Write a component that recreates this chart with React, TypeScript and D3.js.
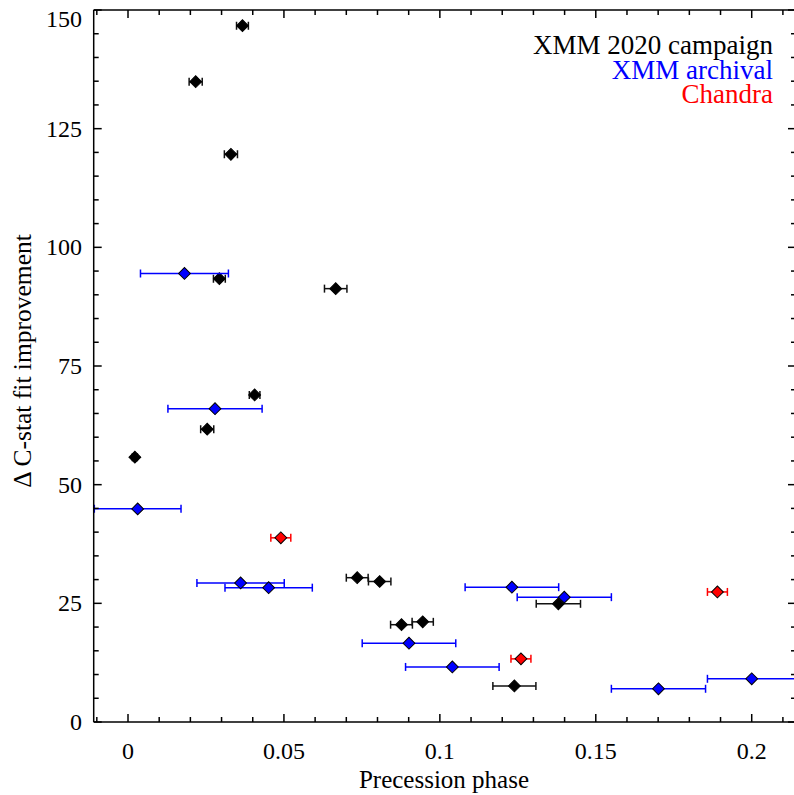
import React from "react";
import * as d3 from "d3";

// XMM 2020 campaign (black)
const campPhase = [0.0367, 0.0217, 0.0330, 0.0293, 0.0666, 0.0406, 0.0254, 0.0022, 0.0735, 0.0807, 0.0877, 0.0945, 0.1380, 0.1239];
const campErr = [0.0019, 0.0021, 0.0021, 0.0019, 0.0036, 0.0017, 0.0021, 0.0008, 0.0035, 0.0036, 0.0035, 0.0034, 0.0071, 0.0069];
const campDC = [146.7, 134.9, 119.6, 93.4, 91.3, 68.9, 61.7, 55.8, 30.4, 29.6, 20.5, 21.1, 24.9, 7.6];

// XMM archival (blue)
const archPhase = [0.0181, 0.0279, 0.0031, 0.0361, 0.0451, 0.0901, 0.1231, 0.1399, 0.1040, 0.1701, 0.2000];
const archErr = [0.0141, 0.0151, 0.0139, 0.0140, 0.0140, 0.0150, 0.0150, 0.0151, 0.0150, 0.0151, 0.0142];
const archDC = [94.5, 66.0, 44.9, 29.3, 28.3, 16.6, 28.4, 26.3, 11.6, 7.0, 9.1];

// Chandra (red)
const chanPhase = [0.0490, 0.1260, 0.1890];
const chanErr = [0.0032, 0.0032, 0.0032];
const chanDC = [38.8, 13.3, 27.4];

const xMajor = [0, 0.05, 0.1, 0.15, 0.2];
const xMajorLabels = ["0", "0.05", "0.1", "0.15", "0.2"];
const yMajor = [0, 25, 50, 75, 100, 125, 150];
const yMajorLabels = ["0", "25", "50", "75", "100", "125", "150"];

const legendLabels = ["XMM 2020 campaign", "XMM archival", "Chandra"];
const legendColors = ["#000000", "#0000ff", "#ff0000"];

const W = 794;
const H = 795;
const L = 93.7, R = 796, T = 10, B = 722;
const FONT = "'Liberation Serif', 'DejaVu Serif', serif";

export default function App() {
  const x = d3.scaleLinear().domain([-0.011, 0.2142]).range([L, R]);
  const y = d3.scaleLinear().domain([0, 150]).range([B, T]);

  const xMinor = d3.range(-0.01, 0.2141, 0.01).filter((v) => !xMajor.some((m) => Math.abs(m - v) < 1e-9));
  const yMinor = d3.range(0, 150.01, 5).filter((v) => v % 25 !== 0);

  const diamond = d3.symbol().type(d3.symbolSquare).size(70)();

  const series = [
    { p: campPhase, e: campErr, v: campDC, fill: "#000000", bar: "#111111" },
    { p: archPhase, e: archErr, v: archDC, fill: "#0000ff", bar: "#0000ff" },
    { p: chanPhase, e: chanErr, v: chanDC, fill: "#ff0000", bar: "#ff0000" },
  ];

  const capH = 4;

  return (
    <svg
      width={W}
      height={H}
      style={{ position: "absolute", left: 0, top: 0, background: "#fff" }}
      fontFamily={FONT}
    >
      <defs>
        <clipPath id="plotclip">
          <rect x={L} y={T} width={R - L} height={B - T} />
        </clipPath>
      </defs>
      <rect x={0} y={0} width={W} height={H} fill="#fff" />

      {/* data */}
      <g clipPath="url(#plotclip)">
        {series.map((s, si) => (
          <g key={si}>
            {s.p.map((p, i) => {
              const x0 = x(p - s.e[i]);
              const x1 = x(p + s.e[i]);
              const yy = y(s.v[i]);
              return (
                <g key={i} stroke={s.bar} strokeWidth={1.5}>
                  <line x1={x0} x2={x1} y1={yy} y2={yy} />
                  <line x1={x0} x2={x0} y1={yy - capH} y2={yy + capH} />
                  <line x1={x1} x2={x1} y1={yy - capH} y2={yy + capH} />
                </g>
              );
            })}
            {s.p.map((p, i) => (
              <path
                key={"m" + i}
                d={diamond as string}
                transform={`translate(${x(p)},${y(s.v[i])}) rotate(45)`}
                fill={s.fill}
                stroke="#000"
                strokeWidth={1}
              />
            ))}
          </g>
        ))}
      </g>

      {/* axes frame */}
      <g stroke="#000" strokeWidth={1.5} fill="none">
        <line x1={L} x2={R} y1={B} y2={B} />
        <line x1={L} x2={R} y1={T} y2={T} />
        <line x1={L} x2={L} y1={T} y2={B} />
        <line x1={R} x2={R} y1={T} y2={B} />
      </g>

      {/* ticks */}
      <g stroke="#000" strokeWidth={1.5}>
        {xMajor.map((v) => (
          <g key={"xM" + v}>
            <line x1={x(v)} x2={x(v)} y1={B} y2={B - 8} />
            <line x1={x(v)} x2={x(v)} y1={T} y2={T + 8} />
          </g>
        ))}
        {xMinor.map((v) => (
          <g key={"xm" + v}>
            <line x1={x(v)} x2={x(v)} y1={B} y2={B - 5} />
            <line x1={x(v)} x2={x(v)} y1={T} y2={T + 5} />
          </g>
        ))}
        {yMajor.map((v) => (
          <g key={"yM" + v}>
            <line x1={L} x2={L + 8} y1={y(v)} y2={y(v)} />
            <line x1={R} x2={R - 8} y1={y(v)} y2={y(v)} />
          </g>
        ))}
        {yMinor.map((v) => (
          <g key={"ym" + v}>
            <line x1={L} x2={L + 5} y1={y(v)} y2={y(v)} />
            <line x1={R} x2={R - 5} y1={y(v)} y2={y(v)} />
          </g>
        ))}
      </g>

      {/* tick labels */}
      <g fontSize={24} fill="#000">
        {xMajor.map((v, i) => (
          <text key={"xl" + v} x={x(v)} y={759} textAnchor="middle">
            {xMajorLabels[i]}
          </text>
        ))}
        {yMajor.map((v, i) => (
          <text
            key={"yl" + v}
            x={82}
            y={v === 150 ? y(v) + 17 : y(v) + 8}
            textAnchor="end"
          >
            {yMajorLabels[i]}
          </text>
        ))}
      </g>

      {/* axis titles */}
      <text x={444} y={788} fontSize={25} textAnchor="middle" fill="#000">
        Precession phase
      </text>
      <text
        transform={`translate(31,${361}) rotate(-90)`}
        fontSize={25.5}
        textAnchor="middle"
        fill="#000"
      >
        Δ C-stat fit improvement
      </text>

      {/* legend */}
      <g fontSize={27} textAnchor="end">
        {legendLabels.map((t, i) => (
          <text key={t} x={773} y={54 + i * 24.5} fill={legendColors[i]}>
            {t}
          </text>
        ))}
      </g>
    </svg>
  );
}
